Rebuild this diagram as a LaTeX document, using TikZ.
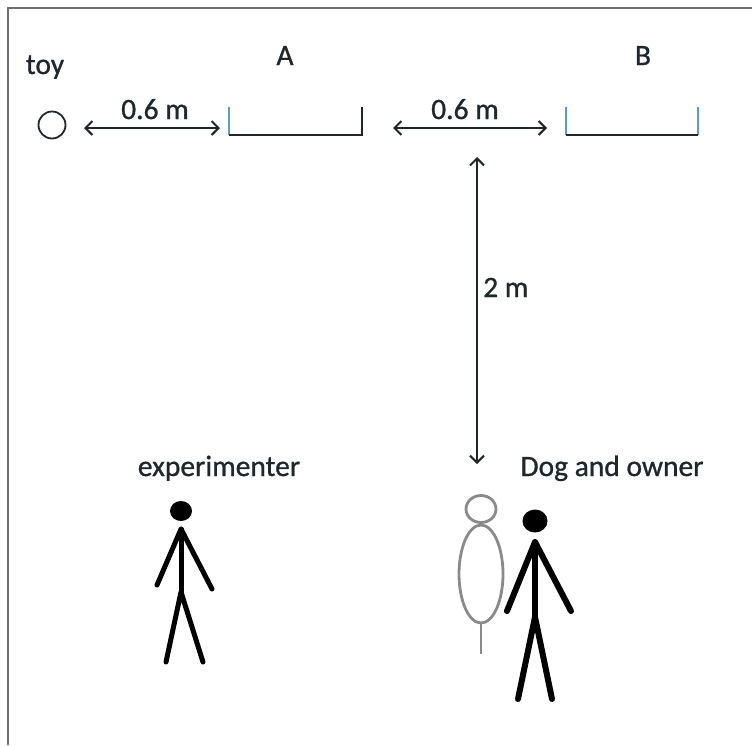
\documentclass[tikz,border=0pt]{standalone}
\usepackage{fontspec}
\newfontfamily\lblfont{Carlito}[FakeBold=0.9]
\usetikzlibrary{arrows.meta}
\definecolor{ink}{HTML}{1F272D}
\definecolor{frame}{HTML}{707070}
\definecolor{lidblue}{HTML}{5B9BD5}
\definecolor{doggray}{HTML}{8A8A8A}
\tikzset{
  lbl/.style={font=\lblfont\fontsize{29.5}{34}\selectfont, text=ink, inner sep=0pt, anchor=base},
  barb/.tip={Straight Barb[length=7pt,width=14pt,line width=2pt]},
  dim/.style={draw=ink, line width=2.4pt, barb-barb},
  base/.style={draw=ink, line width=2.4pt},
  side/.style={draw=lidblue, line width=2.4pt},
  stick/.style={draw=black, line width=5pt, line cap=round, line join=round},
  dogline/.style={draw=doggray, line width=2.8pt},
}
\begin{document}
\begin{tikzpicture}[x=1pt, y=-1pt]
\useasboundingbox (0,0) rectangle (752,745);
% frame: top and left edges
\draw[frame, line width=1.6pt] (8,745) -- (8,8) -- (752,8);

% labels
\node[lbl] (toy) at (45,74) {toy};
\node[lbl] (labA) at (285,65) {A};
\node[lbl] (labB) at (643,65) {B};
\node[lbl] (d1) at (155,119) {0.6 m};
\node[lbl] (d2) at (465,119) {0.6 m};
\node[lbl, anchor=base west] (d3) at (483,297) {2 m};
\node[lbl] (exp) at (219,476) {experimenter};
\node[lbl] (dog) at (612,476) {Dog and owner};

% toy
\node[draw=ink, line width=1.8pt, circle, minimum size=27pt, inner sep=0pt] (ball) at (52,125) {};

% bowl A
\coordinate (Atl) at (229,107);
\coordinate (Abl) at (229,135);
\coordinate (Abr) at (362,135);
\coordinate (Atr) at (362,107);
\draw[side] (Atl) -- (Abl);
\draw[base] (Abl) -- (Abr) -- (Atr);

% bowl B
\coordinate (Btl) at (566,107);
\coordinate (Bbl) at (566,135);
\coordinate (Bbr) at (698,135);
\coordinate (Btr) at (698,107);
\draw[side] (Btl) -- (Bbl);
\draw[side] (Bbr) -- (Btr);
\draw[base] (Bbl) -- (Bbr);

% dimension arrows
\coordinate (h1l) at (84,128);
\coordinate (h1r) at (220,128);
\coordinate (h2l) at (393,128);
\coordinate (h2r) at (547,128);
\coordinate (vt) at (477,157);
\coordinate (vb) at (477,464);
\draw[dim] (h1l) -- (h1r);
\draw[dim] (h2l) -- (h2r);
\draw[dim] (vt) -- (vb);

% experimenter
\coordinate (eneck) at (181,529);
\coordinate (ehip) at (181,592);
\fill[black] (181,511) ellipse (11pt and 10pt);
\draw[stick] (157,585) -- (eneck) -- (212,589);
\draw[stick] (eneck) -- (ehip);
\draw[stick] (166,662) -- (ehip) -- (203,662);

% dog
\draw[dogline] (481,509) ellipse (15pt and 13.5pt);
\draw[dogline] (481,574) ellipse (22pt and 49pt);
\draw[dogline] (481,623) -- (481,654);

% owner
\coordinate (oneck) at (535,542);
\coordinate (ohip) at (535,617);
\fill[black] (535,521) ellipse (12.5pt and 11.5pt);
\draw[stick, line width=6pt] (507,611) -- (oneck) -- (571,611);
\draw[stick, line width=6pt] (oneck) -- (ohip);
\draw[stick, line width=6pt] (518,699) -- (ohip) -- (552,699);
\end{tikzpicture}
\end{document}
